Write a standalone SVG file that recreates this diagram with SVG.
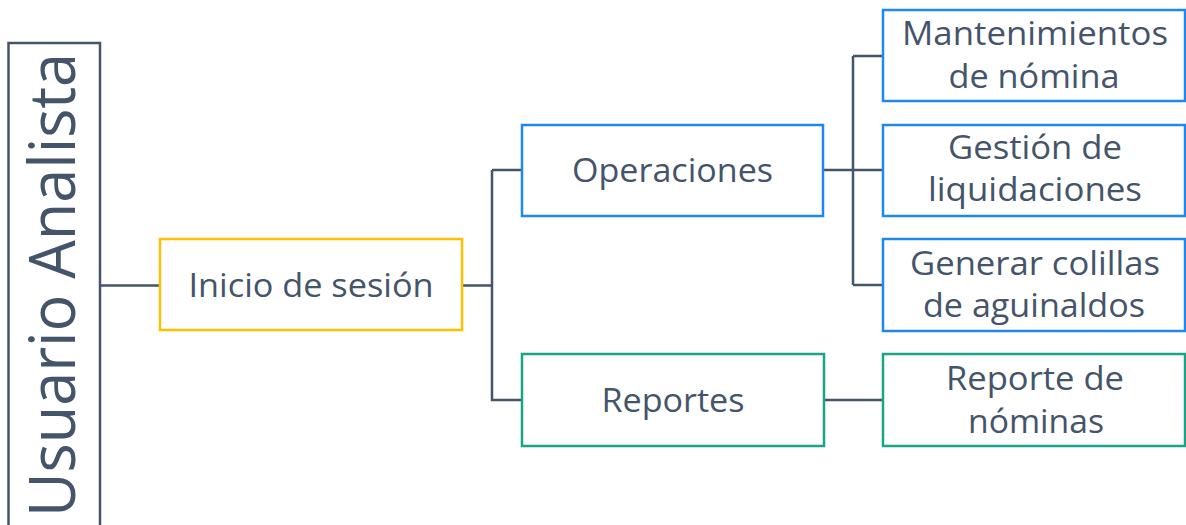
<svg xmlns="http://www.w3.org/2000/svg" width="1186" height="525" viewBox="0 0 1186 525">
<style>
  .box{fill:#ffffff;stroke-width:2.5}
  .y{stroke:#FFC000}
  .b{stroke:#1E88F0}
  .g{stroke:#1BA385}
  .u{stroke:#44546A}
  .t{font-family:"Open Sans","Noto Sans",sans-serif;font-size:33px;fill:#44546A;text-anchor:middle}
  .conn{fill:none;stroke:#44546A;stroke-width:2.5}
</style>
<rect width="1186" height="525" fill="#ffffff"/>
<g id="connectors">
  <path class="conn" d="M100 285.5H160"/>
  <path class="conn" d="M462 285.5H492M492 170H522M492 170V400H522"/>
  <path class="conn" d="M823 170H883M853 56V285M853 56H883M853 285H883"/>
  <path class="conn" d="M824 400H883"/>
</g>
<g id="usuario">
  <rect class="box u" x="8.5" y="43" width="91.5" height="500"/>
  <text class="t" transform="translate(75,285) rotate(-90)" font-size="64" style="font-size:64px" textLength="464" lengthAdjust="spacingAndGlyphs">Usuario Analista</text>
</g>
<g id="inicio">
  <rect class="box y" x="160" y="239" width="302" height="91"/>
  <text class="t" x="311" y="297" textLength="245" lengthAdjust="spacingAndGlyphs">Inicio de sesión</text>
</g>
<g id="operaciones">
  <rect class="box b" x="522" y="125" width="301" height="91"/>
  <text class="t" x="672.5" y="182" textLength="201" lengthAdjust="spacingAndGlyphs">Operaciones</text>
</g>
<g id="reportes">
  <rect class="box g" x="522" y="354" width="302" height="92"/>
  <text class="t" x="673" y="412" textLength="143" lengthAdjust="spacingAndGlyphs">Reportes</text>
</g>
<g id="mantenimientos">
  <rect class="box b" x="883" y="10" width="302" height="91"/>
  <text class="t" x="1035" y="45" textLength="266" lengthAdjust="spacingAndGlyphs">Mantenimientos</text>
  <text class="t" x="1034" y="88" textLength="171" lengthAdjust="spacingAndGlyphs">de nómina</text>
</g>
<g id="gestion">
  <rect class="box b" x="883" y="125" width="302" height="91"/>
  <text class="t" x="1035" y="159" textLength="174" lengthAdjust="spacingAndGlyphs">Gestión de</text>
  <text class="t" x="1035" y="201" textLength="214" lengthAdjust="spacingAndGlyphs">liquidaciones</text>
</g>
<g id="colillas">
  <rect class="box b" x="883" y="239" width="302" height="92"/>
  <text class="t" x="1035" y="275" textLength="250" lengthAdjust="spacingAndGlyphs">Generar colillas</text>
  <text class="t" x="1034" y="317" textLength="222" lengthAdjust="spacingAndGlyphs">de aguinaldos</text>
</g>
<g id="reporte-nominas">
  <rect class="box g" x="883" y="354" width="302" height="92"/>
  <text class="t" x="1035" y="390" textLength="178" lengthAdjust="spacingAndGlyphs">Reporte de</text>
  <text class="t" x="1036" y="433" textLength="136" lengthAdjust="spacingAndGlyphs">nóminas</text>
</g>
</svg>
